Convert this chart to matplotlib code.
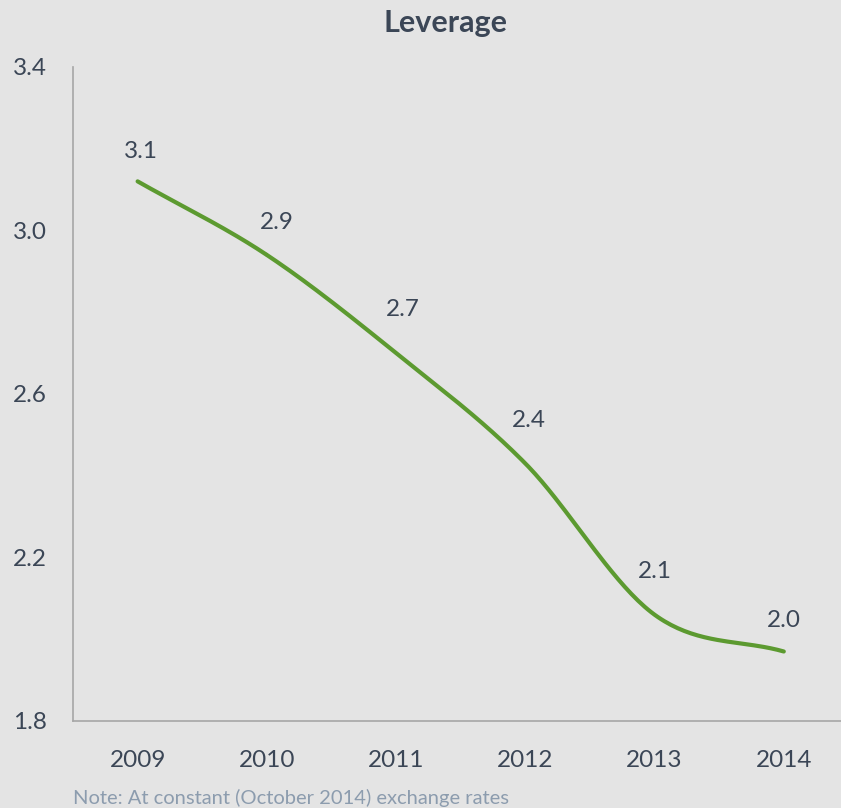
import numpy as np
import matplotlib
matplotlib.use("Agg")
import matplotlib.pyplot as plt

# -----------------------------------------------------------------------------
# DATA
# -----------------------------------------------------------------------------
years = ["2009", "2010", "2011", "2012", "2013", "2014"]
leverage = [3.12, 2.94, 2.70, 2.43, 2.06, 1.97]
y_ticks = [1.8, 2.2, 2.6, 3.0, 3.4]

BG = "#e4e4e4"
GREEN = "#5c9a30"
TEXT = "#3b4656"
NOTE = "#8c9cae"

# label offsets (pixels) above each point, as Excel placed them
label_dx = [3, 10, 7, 4, 0, 0]
label_dy = [30, 32, 44, 43, 43, 31]

plt.rcParams["font.family"] = ["Lato", "DejaVu Sans"]


def catmull_rom(x, y, n=40):
    # smooth curve through the points, like Excel's "smoothed line"
    x = np.asarray(x, float)
    y = np.asarray(y, float)
    px = np.concatenate([[2 * x[0] - x[1]], x, [2 * x[-1] - x[-2]]])
    py = np.concatenate([[2 * y[0] - y[1]], y, [2 * y[-1] - y[-2]]])
    xs, ys = [], []
    t = np.linspace(0, 1, n)
    for i in range(1, len(px) - 2):
        for p, out in ((px, xs), (py, ys)):
            p0, p1, p2, p3 = p[i - 1], p[i], p[i + 1], p[i + 2]
            out.append(0.5 * (2 * p1 + (-p0 + p2) * t
                              + (2 * p0 - 5 * p1 + 4 * p2 - p3) * t ** 2
                              + (-p0 + 3 * p1 - 3 * p2 + p3) * t ** 3))
    return np.concatenate(xs), np.concatenate(ys)


fig = plt.figure(figsize=(8.41, 8.08), dpi=100, facecolor=BG)
ax = fig.add_axes([0.0868, 0.1077, 0.922, 0.8095], facecolor=BG)

x = np.arange(len(years))
sx, sy = catmull_rom(x, leverage)
ax.plot(sx, sy, color=GREEN, linewidth=3, solid_capstyle="round")

for xi, v, dx, dy in zip(x, leverage, label_dx, label_dy):
    ax.annotate(f"{v:.1f}", (xi, v), xytext=(dx, dy), textcoords="offset pixels",
                ha="center", va="center", fontsize=17.5, color=TEXT)

ax.set_xlim(-0.5, 5.5)
ax.set_ylim(1.8, 3.4)
ax.set_xticks(x)
ax.set_xticklabels(years)
ax.set_yticks(y_ticks)
ax.set_yticklabels([f"{t:.1f}" for t in y_ticks])
ax.tick_params(axis="both", length=0, labelsize=17.5, colors=TEXT)
ax.tick_params(axis="x", pad=21)
ax.tick_params(axis="y", pad=19)

for side in ("top", "right"):
    ax.spines[side].set_visible(False)
for side in ("left", "bottom"):
    ax.spines[side].set_color("#a6a6a6")
    ax.spines[side].set_linewidth(1.2)

fig.text(0.53, 0.972, "Leverage", ha="center", va="center",
         fontsize=22, fontweight="bold", color=TEXT)
fig.text(0.0868, 0.0124, "Note: At constant (October 2014) exchange rates",
         ha="left", va="center", fontsize=14.5, color=NOTE)

fig.savefig("out.png", dpi=100, facecolor=BG)
